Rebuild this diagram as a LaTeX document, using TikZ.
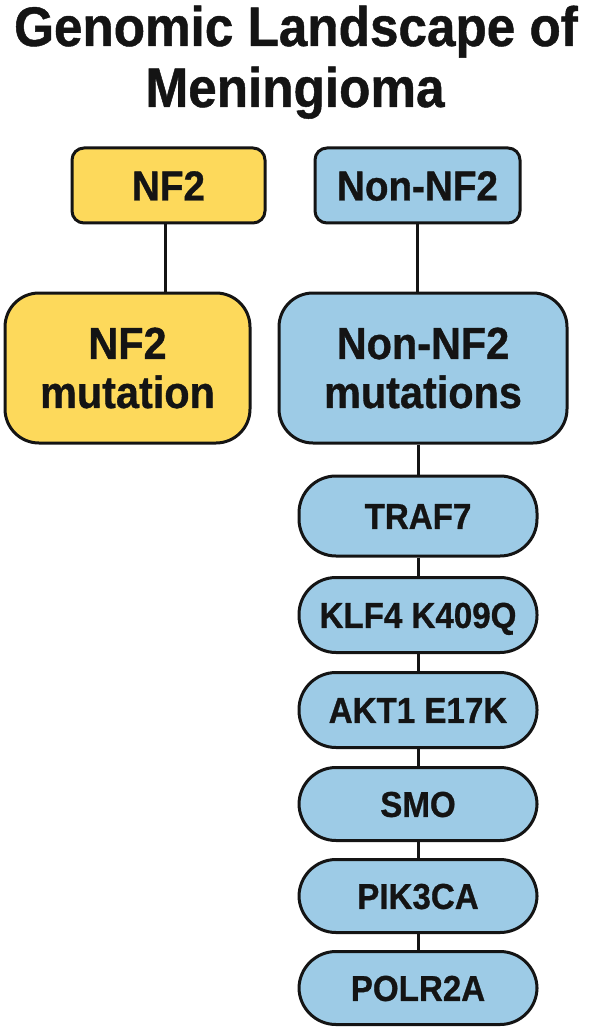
\documentclass[tikz,border=0pt]{standalone}
\usepackage{fontspec}
\setmainfont{Liberation Sans}[FakeStretch=0.92,BoldFeatures={FakeBold=0.8}]
\definecolor{yel}{HTML}{FDD95B}
\definecolor{blu}{HTML}{9DCBE6}
\definecolor{ink}{HTML}{141414}
\begin{document}
\begin{tikzpicture}[x=1pt,y=-1pt,
  base/.style={draw=ink, line width=3pt, inner sep=0pt, text=ink},
  titletext/.style={anchor=base, inner sep=0pt, text=ink, font=\bfseries\fontsize{55.7}{58}\selectfont},
  smallbox/.style={base, rounded corners=12pt, minimum width=193pt, minimum height=75pt,
    text height=30pt, text depth=0pt, font=\bfseries\fontsize{42}{46}\selectfont},
  bigbox/.style={base, rounded corners=34pt, minimum height=150pt, align=center,
    font=\bfseries\fontsize{45}{49}\selectfont},
  pill/.style={base, fill=blu, rounded corners=37pt, minimum width=238pt, minimum height=75pt,
    text height=25.8pt, text depth=0pt, font=\bfseries\fontsize{36}{40}\selectfont},
  link/.style={draw=ink, line width=3pt}]
\useasboundingbox[fill=white] (0,0) rectangle (590,1032);

\node[titletext] (t1) at (296,46) {Genomic Landscape of};
\node[titletext] (t2) at (295,107) {Meningioma};

\node[smallbox, fill=yel] (nf2) at (168.5,185.5) {NF2};
\node[smallbox, fill=blu, minimum width=205pt] (non) at (417.5,185.5) {Non-NF2};

\node[bigbox, fill=yel, minimum width=245pt] (nf2m) at (127.5,368) {NF2\\mutation};
\node[bigbox, fill=blu, minimum width=288pt] (nonm) at (423,368) {Non-NF2\\mutations};

\node[pill, minimum height=80pt] (traf) at (418,516) {TRAF7};
\node[pill] (klf) at (418,615) {KLF4 K409Q};
\node[pill] (akt) at (418,710) {AKT1 E17K};
\node[pill, minimum height=73pt] (smo) at (418,804) {SMO};
\node[pill, minimum height=73pt] (pik) at (418,896) {PIK3CA};
\node[pill, minimum height=73pt] (pol) at (418,988) {POLR2A};

\draw[link] ([xshift=-3pt]nf2.south) -- ([xshift=-3pt]nf2.south |- nf2m.north);
\draw[link] (non.south) -- (non.south |- nonm.north);
\draw[link] (traf.north |- nonm.south) -- (traf.north);
\draw[link] (traf) -- (klf);
\draw[link] (klf) -- (akt);
\draw[link] (akt) -- (smo);
\draw[link] (smo) -- (pik);
\draw[link] (pik) -- (pol);
\end{tikzpicture}
\end{document}
